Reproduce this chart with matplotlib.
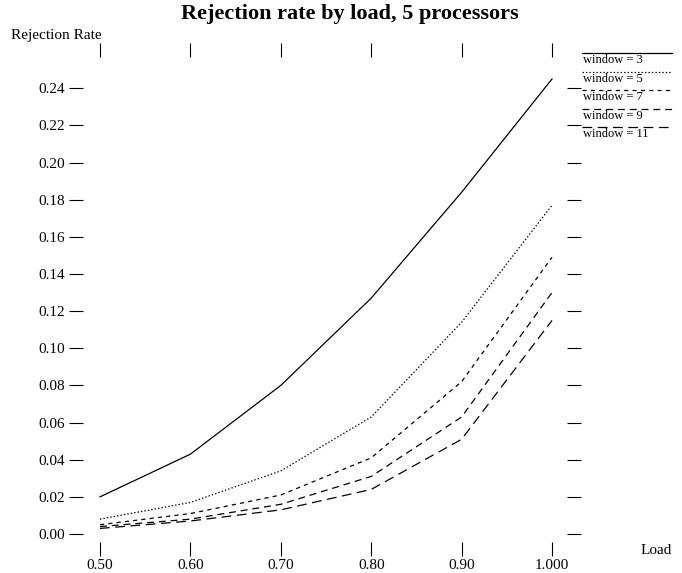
import matplotlib
matplotlib.use("Agg")
import matplotlib.pyplot as plt
from matplotlib.lines import Line2D

plt.rcParams['font.family'] = ['Liberation Serif', 'DejaVu Serif']
plt.rcParams['lines.scale_dashes'] = False

loads = [0.50, 0.60, 0.70, 0.80, 0.90, 1.00]
x_labels = ["0.50", "0.60", "0.70", "0.80", "0.90", "1.000"]
y_ticks = [0.00, 0.02, 0.04, 0.06, 0.08, 0.10, 0.12, 0.14, 0.16, 0.18, 0.20, 0.22, 0.24]

windows = ["window = 3", "window = 5", "window = 7", "window = 9", "window = 11"]
rate_w3 = [0.020, 0.043, 0.080, 0.127, 0.184, 0.245]
rate_w5 = [0.008, 0.017, 0.034, 0.063, 0.114, 0.177]
rate_w7 = [0.005, 0.011, 0.021, 0.041, 0.082, 0.149]
rate_w9 = [0.004, 0.008, 0.016, 0.031, 0.063, 0.130]
rate_w11 = [0.003, 0.007, 0.013, 0.024, 0.051, 0.115]
series = [rate_w3, rate_w5, rate_w7, rate_w9, rate_w11]

styles = ['-', (0, (1, 1.5)), (0, (3, 3)), (0, (5, 3.5)), (0, (7, 4))]

W, H = 682, 573
fig = plt.figure(figsize=(W / 100, H / 100), dpi=100)
# axes box spans the data area: x 0.5..1.0, y 0..0.245
ax = fig.add_axes([100 / W, (H - 534) / H, (552 - 100) / W, (534 - 79) / H])
ax.set_xlim(0.5, 1.0)
ax.set_ylim(0, 0.245)

for vals, ls in zip(series, styles):
    ax.plot(loads, vals, color='black', lw=0.9, linestyle=ls, clip_on=False)

for s in ax.spines.values():
    s.set_visible(False)
ax.spines['left'].set_position(('outward', 12))
ax.spines['right'].set_position(('outward', 11))
ax.spines['top'].set_position(('outward', 16))
ax.spines['bottom'].set_position(('outward', 6))

ax.set_xticks(loads)
ax.set_xticklabels(x_labels)
ax.set_yticks(y_ticks)
ax.set_yticklabels([f"{v:.2f}" for v in y_ticks])
ax.tick_params(axis='x', top=True, bottom=True, direction='out', length=10,
               width=0.8, pad=2, labelsize=11)
ax.tick_params(axis='y', left=True, right=True, direction='out', length=10,
               width=0.8, pad=3, labelsize=11)

fig.text(350 / W, 1 - 14 / H, "Rejection rate by load, 5 processors",
         ha='center', va='center', fontsize=16, fontweight='bold')
fig.text(11 / W, 1 - 35 / H, "Rejection Rate", ha='left', va='center', fontsize=11)
fig.text(656 / W, 1 - 550 / H, "Load", ha='center', va='center', fontsize=11)

# legend: line above each label
for i, (name, ls) in enumerate(zip(windows, styles)):
    yl = 53 + i * 18.5
    fig.add_artist(Line2D([582 / W, 672 / W], [1 - yl / H, 1 - yl / H],
                          transform=fig.transFigure, color='black', lw=0.9, linestyle=ls))
    fig.text(583 / W, 1 - (yl + 1) / H, name, ha='left', va='top', fontsize=9)

fig.savefig("out.png", dpi=100)
